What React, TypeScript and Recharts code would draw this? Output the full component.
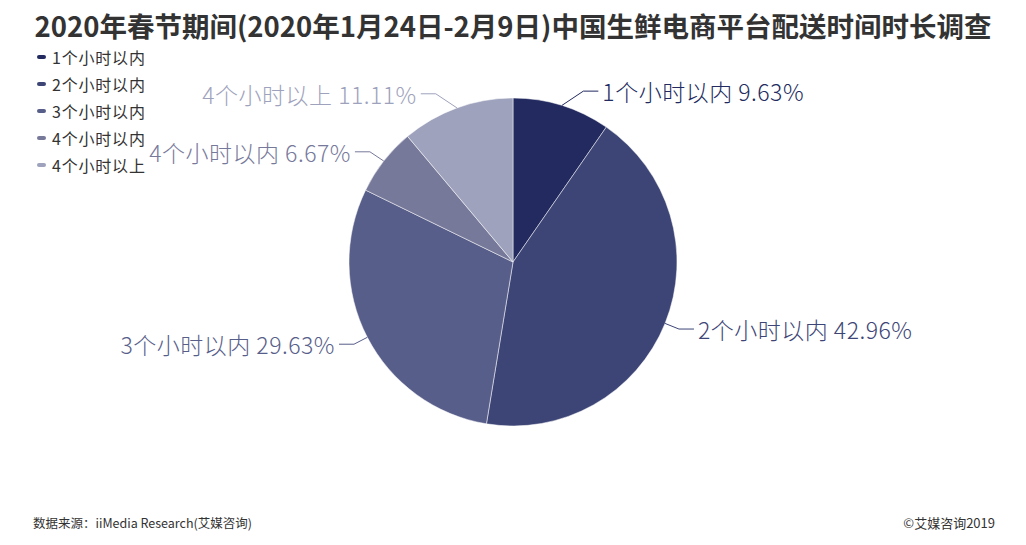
import { PieChart, Pie, Cell } from 'recharts';

const categories = ['1个小时以内', '2个小时以内', '3个小时以内', '4个小时以内', '4个小时以上'];
const shares = [9.63, 42.96, 29.63, 6.67, 11.11];
const colors = ['#222a60', '#3d4576', '#585e8a', '#77799b', '#9ea2bc'];

const data = categories.map((name, i) => ({ name, value: shares[i] }));

const FONT = '"Noto Sans CJK SC", "Noto Sans", sans-serif';
const RADIAN = Math.PI / 180;

function renderLabel(props: any) {
  const { cx, cy, midAngle, outerRadius, index, name, value } = props;
  const cos = Math.cos(-midAngle * RADIAN);
  const sin = Math.sin(-midAngle * RADIAN);
  const sx = cx + outerRadius * cos;
  const sy = cy + outerRadius * sin;
  const radDx = 15 * cos;
  const radDy = 15 * sin;
  const side = cos >= 0 ? 1 : -1;
  const mx = sx + side * Math.max(Math.abs(radDx), Math.abs(radDy) * 1.5);
  const my = sy + radDy;
  const ex = mx + side * 15;
  const color = colors[index];
  return (
    <g>
      <polyline points={`${sx},${sy} ${mx},${my} ${ex},${my}`} stroke={color} fill="none" strokeWidth={1} />
      <text
        x={ex + side * 4}
        y={my}
        textAnchor={side > 0 ? 'start' : 'end'}
        dominantBaseline="central"
        fill={color}
        fontSize={23}
        letterSpacing={0.5}
        fontFamily={FONT}
        fontWeight={300}
      >
        {`${name} ${Number(value).toFixed(2)}%`}
      </text>
    </g>
  );
}

function LegendBox() {
  return (
    <div style={{ position: 'absolute', left: 37, top: 43, fontFamily: FONT }}>
      {categories.map((c, i) => (
        <div
          key={c}
          style={{ display: 'flex', alignItems: 'center', height: 27, fontSize: 16, letterSpacing: 0.8, color: '#333' }}
        >
          <span style={{ display: 'inline-block', width: 9, height: 4, borderRadius: 2, background: colors[i], marginRight: 6 }} />
          {c}
        </div>
      ))}
    </div>
  );
}

export default function App() {
  return (
    <div style={{ position: 'absolute', left: 0, top: 0, width: 1026, height: 545, background: '#fff', fontFamily: FONT }}>
      <div
        style={{
          position: 'absolute',
          top: 8,
          left: 0,
          width: 1026,
          textAlign: 'center',
          fontSize: 27.5,
          fontWeight: 700,
          color: '#333',
          lineHeight: '34px',
          whiteSpace: 'nowrap',
        }}
      >
        2020年春节期间(2020年1月24日-2月9日)中国生鲜电商平台配送时间时长调查
      </div>
      <div style={{ position: 'absolute', left: 0, top: 0 }}>
        <PieChart width={1026} height={545} margin={{ top: 0, right: 0, bottom: 0, left: 0 }}>
          <Pie
            data={data}
            dataKey="value"
            nameKey="name"
            cx={513}
            cy={262}
            outerRadius={164}
            startAngle={90}
            endAngle={-270}
            stroke="#ffffff"
            strokeWidth={0.5}
            label={renderLabel}
            labelLine={false}
            isAnimationActive={false}
          >
            {data.map((d, i) => (
              <Cell key={d.name} fill={colors[i]} />
            ))}
          </Pie>
        </PieChart>
      </div>
      <LegendBox />
      <div style={{ position: 'absolute', left: 33, top: 513, fontSize: 12.5, color: '#333' }}>
        数据来源：iiMedia Research(艾媒咨询)
      </div>
      <div style={{ position: 'absolute', right: 31, top: 513, fontSize: 13, color: '#333' }}>©艾媒咨询2019</div>
    </div>
  );
}
